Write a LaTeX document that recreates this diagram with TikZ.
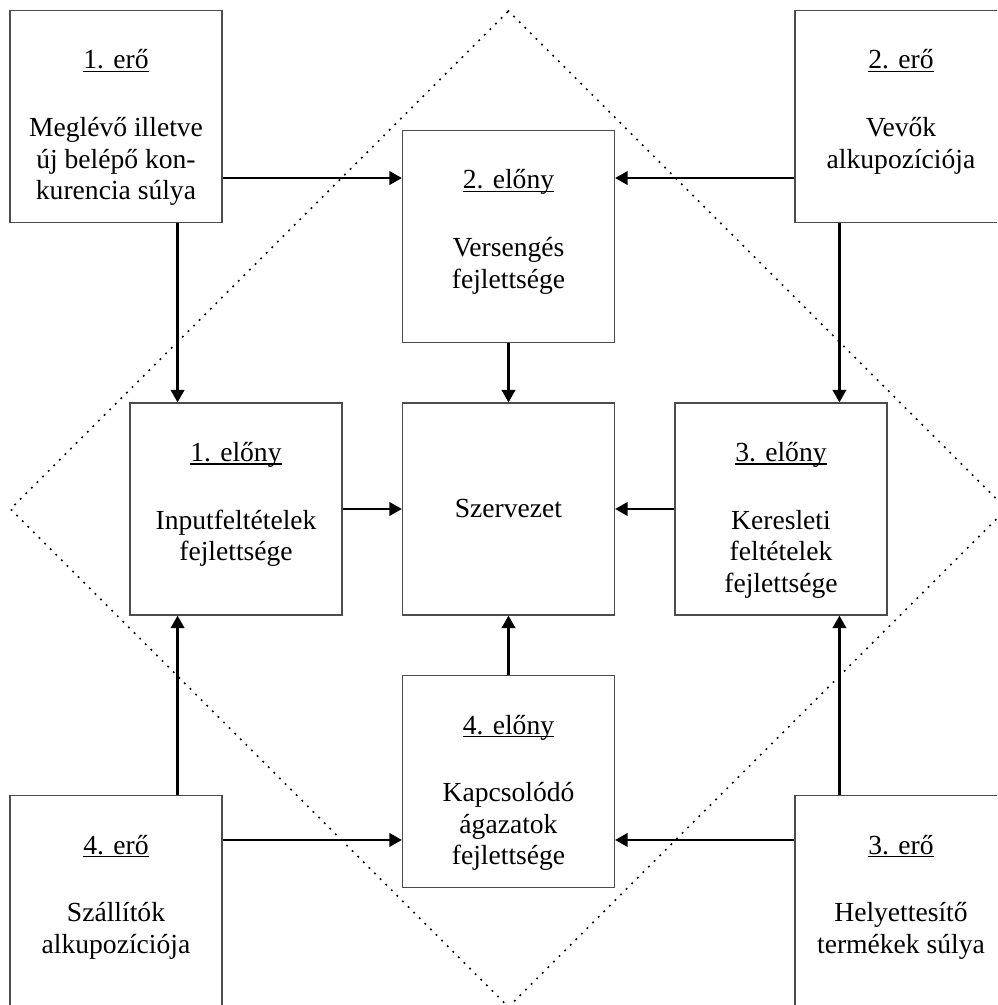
\documentclass[tikz,border=0pt]{standalone}
\usepackage{fontspec}
\setmainfont{Liberation Serif}
\usetikzlibrary{arrows.meta}
\newcommand{\undl}[1]{\setbox0\hbox{#1}\rlap{\rule[-1.8pt]{\wd0}{0.7pt}}\box0}
\newcommand{\boxtxt}[2]{\parbox[c][4.24cm][t]{4.1cm}{\centering\rule{0pt}{1.17cm}\undl{#1}\\[0.72cm]#2}}
\tikzset{
	box/.style={draw=black!70, line width=0.7pt, fill=white, inner sep=0pt, minimum size=4.24cm, font=\fontsize{15.7}{18}\selectfont},
	conn/.style={line width=1.3pt, -{Triangle[length=2.5mm,width=2.7mm]}}
}
\begin{document}
\begin{tikzpicture}
		\useasboundingbox (-10.17,-9.92) rectangle (9.77,10.18);
		\clip (-10.17,-9.92) rectangle (9.77,10.18);
		\draw [line width=1.4pt, line cap=round, dash pattern=on 0pt off 4.5pt] (0,9.96) -- (9.96,0) -- (0,-9.96) -- (-9.96,0) -- cycle;

		\node [box] (szerv) at (0,0) {\parbox[c][4.24cm][c]{4.1cm}{\centering Szervezet}};
		\node [box] (elony1) at (-5.45,0) {\boxtxt{1. előny}{Inputfeltételek\\fejlettsége}};
		\node [box] (elony2) at (0,5.45) {\boxtxt{2. előny}{Versengés\\fejlettsége}};
		\node [box] (elony3) at (5.45,0) {\boxtxt{3. előny}{Keresleti\\feltételek\\fejlettsége}};
		\node [box] (elony4) at (0,-5.45) {\boxtxt{4. előny}{Kapcsolódó\\ágazatok\\fejlettsége}};

		\node [box] (ero1) at (-7.85,7.85) {\boxtxt{1. erő}{Meglévő illetve\\új belépő kon-\\kurencia súlya}};
		\node [box] (ero2) at (7.85,7.85) {\boxtxt{2. erő}{Vevők\\alkupozíciója}};
		\node [box] (ero3) at (7.85,-7.85) {\boxtxt{3. erő}{Helyettesítő\\termékek súlya}};
		\node [box] (ero4) at (-7.85,-7.85) {\boxtxt{4. erő}{Szállítók\\alkupozíciója}};

		\draw [conn] (elony1.east) -- (szerv.west);
		\draw [conn] (elony2.south) -- (szerv.north);
		\draw [conn] (elony3.west) -- (szerv.east);
		\draw [conn] (elony4.north) -- (szerv.south);

		\draw [conn] (ero1.-30) -- (ero1.-30 -| elony2.west);
		\draw [conn] (ero1.-60) -- (ero1.-60 |- elony1.north);
		\draw [conn] (ero2.-150) -- (ero2.-150 -| elony2.east);
		\draw [conn] (ero2.-120) -- (ero2.-120 |- elony3.north);
		\draw [conn] (ero3.150) -- (ero3.150 -| elony4.east);
		\draw [conn] (ero3.120) -- (ero3.120 |- elony3.south);
		\draw [conn] (ero4.30) -- (ero4.30 -| elony4.west);
		\draw [conn] (ero4.60) -- (ero4.60 |- elony1.south);
	\end{tikzpicture}
\end{document}
